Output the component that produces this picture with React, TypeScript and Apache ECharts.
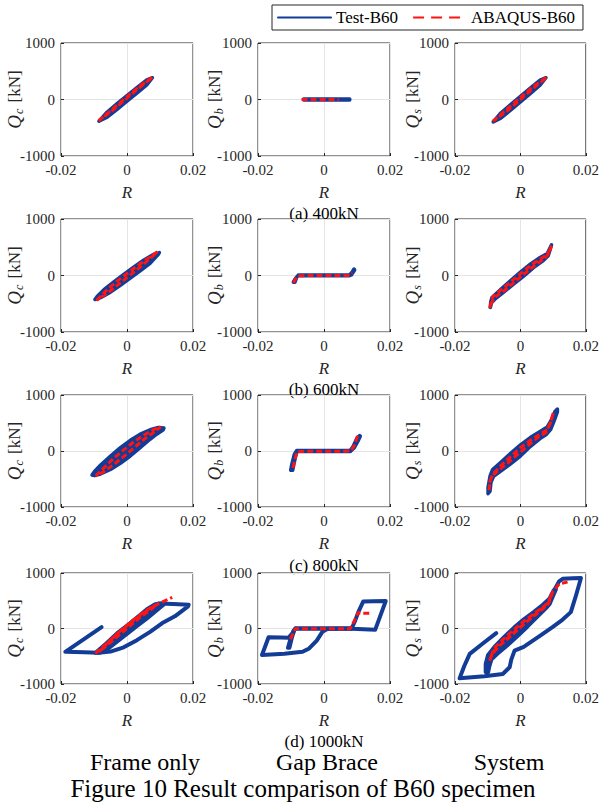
import React, { useEffect, useRef } from 'react';
import * as echarts from 'echarts';

const BLUE = '#133c96';
const RED = '#ff1414';
const INK = '#262626';
const FONT = 'Liberation Serif';

// ---- texts / ticks ----
const loadCases = ['(a) 400kN', '(b) 600kN', '(c) 800kN', '(d) 1000kN'];
const componentNames = ['Frame only', 'Gap Brace', 'System'];
const ySubscripts = ['c', 'b', 's'];
const figureTitle = 'Figure 10 Result comparison of B60 specimen';
const seriesNames = ['Test-B60', 'ABAQUS-B60'];
const xTicks = [-0.02, 0, 0.02];
const yTicks = [-1000, 0, 1000];

// ---- (a) 400kN ----
const frame400Band = [[-0.0085,-385],[-0.006,-221],[-0.003,-73],[0,69],[0.003,211],[0.006,349],[0.0077,385],[0.006,259],[0.003,111],[0,-31],[-0.003,-173],[-0.006,-311]];
const frame400FE = [[-0.0086,-375],[-0.005,-200],[-0.002,-50],[0.001,100],[0.004,245],[0.0078,395],[0.005,270],[0.002,125],[-0.001,-25],[-0.004,-175],[-0.0086,-375]];
const brace400Band = [[-0.0062,-10],[0.0078,-10],[0.0078,10],[-0.0062,10]];
const brace400FE = [[-0.0068,0],[-0.0035,0],[-0.0025,2],[0.0045,2]];
const system400Band = [[-0.0083,-395],[-0.006,-239],[-0.003,-88],[0,57],[0.003,202],[0.006,343],[0.0078,385],[0.006,253],[0.003,102],[0,-43],[-0.003,-188],[-0.006,-329]];
const system400FE = [[-0.0084,-385],[-0.005,-215],[-0.002,-65],[0.001,85],[0.004,235],[0.0081,395],[0.005,250],[0.002,100],[-0.001,-50],[-0.004,-200],[-0.0084,-385]];

// ---- (b) 600kN ----
const frame600Band = [[-0.0097,-425],[-0.009,-365],[-0.007,-250],[-0.004,-112],[-0.001,20],[0.002,148],[0.005,271],[0.008,373],[0.0098,405],[0.0095,375],[0.007,216],[0.004,83],[0.001,-44],[-0.002,-172],[-0.005,-295],[-0.008,-392]];
const frame600FE = [[-0.0092,-440],[-0.006,-250],[-0.003,-100],[0,35],[0.003,165],[0.006,290],[0.0092,420],[0.007,300],[0.004,150],[0.001,10],[-0.002,-130],[-0.005,-270],[-0.0092,-440]];
const brace600Band = [[-0.0093,-120],[-0.0088,-120],[-0.0082,-20],[-0.0078,-6],[0.0076,-6],[0.0083,10],[0.0093,95],[0.0091,115],[0.0085,60],[0.0077,8],[-0.0078,8],[-0.0085,-40],[-0.0093,-115]];
const brace600FE = [[-0.0093,-130],[-0.0085,-50],[-0.0079,-5],[-0.004,0],[0,0],[0.0078,0],[0.0086,40]];
const system600Band = [[-0.0092,-565],[-0.0091,-470],[-0.0087,-390],[-0.006,-245],[-0.003,-90],[0,60],[0.003,200],[0.006,320],[0.0082,390],[0.0095,545],[0.0093,500],[0.0085,350],[0.007,265],[0.004,140],[0.001,-10],[-0.002,-150],[-0.005,-290],[-0.0078,-420],[-0.0088,-480]];
const system600FE = [[-0.0094,-575],[-0.0089,-450],[-0.0084,-370],[-0.005,-210],[-0.002,-65],[0.001,80],[0.004,215],[0.0078,355],[0.0088,430],[0.0095,530],[0.0088,400],[0.0075,310],[0.004,160],[0.001,20],[-0.002,-125],[-0.005,-270],[-0.0082,-400],[-0.0094,-575]];

// ---- (c) 800kN ----
const frame800Band = [[-0.0106,-430],[-0.0098,-360],[-0.008,-250],[-0.005,-90],[-0.002,60],[0.001,190],[0.004,300],[0.007,380],[0.0095,420],[0.0112,410],[0.011,380],[0.009,300],[0.007,210],[0.004,60],[0.001,-90],[-0.002,-220],[-0.005,-330],[-0.008,-410],[-0.0098,-440]];
const frame800FE = [[-0.0095,-445],[-0.007,-300],[-0.004,-130],[-0.001,20],[0.002,160],[0.005,280],[0.008,380],[0.0102,430],[0.008,330],[0.005,200],[0.002,50],[-0.001,-100],[-0.004,-240],[-0.007,-370],[-0.0095,-445]];
const brace800Band = [[-0.0101,-345],[-0.0095,-345],[-0.0088,-150],[-0.0082,-8],[0.008,-8],[0.0092,60],[0.0105,200],[0.011,265],[0.0108,275],[0.01,230],[0.0088,80],[0.0079,8],[-0.0083,8],[-0.009,-60],[-0.0098,-250]];
const brace800FE = [[-0.0094,-300],[-0.0088,-150],[-0.0082,-10],[-0.004,-5],[0,-5],[0.008,-2],[0.0092,100],[0.0103,290]];
const system800Band = [[-0.0099,-760],[-0.0099,-650],[-0.0093,-450],[-0.0085,-330],[-0.006,-200],[-0.003,-40],[0,110],[0.003,240],[0.006,350],[0.0082,430],[0.0095,560],[0.0105,700],[0.0113,750],[0.0113,700],[0.0102,520],[0.0092,380],[0.008,300],[0.006,220],[0.003,80],[0,-90],[-0.003,-230],[-0.006,-360],[-0.0082,-450],[-0.009,-560],[-0.0093,-720]];
const system800FE = [[-0.0096,-700],[-0.0092,-520],[-0.0085,-420],[-0.006,-260],[-0.003,-100],[0,60],[0.003,190],[0.006,300],[0.0082,380],[0.0092,510],[0.0101,690],[0.009,480],[0.0078,330],[0.005,230],[0.002,80],[-0.001,-70],[-0.004,-220],[-0.007,-360],[-0.0088,-450],[-0.0096,-600]];

// ---- (d) 1000kN ----
const frame1000Band = [[-0.0096,-440],[-0.0093,-420],[-0.006,-250],[-0.003,-80],[0,55],[0.003,200],[0.006,350],[0.0085,440],[0.0105,455],[0.0112,430],[0.009,320],[0.006,175],[0.003,40],[0,-100],[-0.003,-240],[-0.006,-380],[-0.008,-435]];
const frame1000Loop = [[0.0095,450],[0.014,440],[0.0187,430],[0.0185,400],[0.0165,310],[0.0145,220],[0.011,110],[0.007,-60],[0.003,-210],[-0.001,-340],[-0.005,-415],[-0.0086,-437],[-0.013,-430],[-0.0187,-420],[-0.0077,25]];
const frame1000FE = [[-0.0096,-450],[-0.006,-260],[-0.003,-95],[0,50],[0.003,190],[0.006,320],[0.009,430],[0.007,330],[0.004,200],[0.001,50],[-0.002,-100],[-0.005,-250],[-0.0085,-420],[-0.005,-210],[-0.002,-40],[0.001,110],[0.004,250],[0.0075,390],[0.0095,445],[0.0137,560]];
const brace1000Band = [[-0.011,-350],[-0.0104,-350],[-0.0096,-150],[-0.0088,-8],[0.0084,-8],[0.0084,8],[-0.0086,8],[-0.0093,-40],[-0.0104,-220]];
const brace1000Loop = [[0.0084,0],[0.0095,150],[0.0104,295],[0.0119,488],[0.015,492],[0.0187,494],[0.0155,-24],[0.012,-15],[0.0084,-6],[0.004,-4],[0.001,-10],[-0.0005,-60],[-0.0022,-217],[-0.0045,-360],[-0.0065,-420],[-0.012,-455],[-0.0188,-476],[-0.0178,-320],[-0.0168,-157],[-0.013,-160],[-0.0107,-165],[-0.0095,-80],[-0.0087,0]];
const brace1000FE = [[-0.0102,-190],[-0.0094,-90],[-0.0087,-6],[-0.004,-6],[0,-4],[0.0079,-6],[0.0092,140],[0.0104,295],[0.0109,277],[0.0145,277]];
const system1000Band = [[-0.0107,-790],[-0.0107,-640],[-0.01,-480],[-0.008,-330],[-0.005,-150],[-0.002,20],[0.001,170],[0.004,300],[0.0068,430],[0.0088,540],[0.01,680],[0.0109,750],[0.0109,700],[0.01,580],[0.009,440],[0.0078,360],[0.005,200],[0.002,20],[-0.001,-150],[-0.004,-310],[-0.007,-460],[-0.0088,-560],[-0.0095,-700],[-0.0098,-790]];
const system1000Loop = [[0.0109,750],[0.0118,850],[0.0129,895],[0.016,905],[0.0185,910],[0.017,600],[0.0154,295],[0.0125,140],[0.0098,24],[0.0065,-110],[0.0038,-217],[0.001,-330],[-0.0018,-398],[-0.0028,-560],[-0.0033,-699],[-0.0054,-819],[-0.011,-860],[-0.0186,-898],[-0.0172,-680],[-0.0155,-458],[-0.0115,-270],[-0.0074,-84]];
const system1000FE = [[-0.0094,-580],[-0.0088,-470],[-0.006,-290],[-0.003,-140],[0,20],[0.003,180],[0.006,330],[0.0085,440],[0.0098,657],[0.0085,470],[0.0072,400],[0.004,260],[0.001,130],[-0.002,-20],[-0.005,-180],[-0.008,-350],[-0.0094,-560],[-0.008,-400],[-0.005,-230],[-0.002,-70],[0.001,80],[0.004,220],[0.007,360],[0.0088,480],[0.0098,650],[0.0119,807],[0.0144,837]];

const testBands = [
  [frame400Band, brace400Band, system400Band],
  [frame600Band, brace600Band, system600Band],
  [frame800Band, brace800Band, system800Band],
  [frame1000Band, brace1000Band, system1000Band],
];
const testLoops: (number[][] | null)[][] = [
  [null, null, null],
  [null, null, null],
  [null, null, null],
  [frame1000Loop, brace1000Loop, system1000Loop],
];
const feCurves = [
  [frame400FE, brace400FE, system400FE],
  [frame600FE, brace600FE, system600FE],
  [frame800FE, brace800FE, system800FE],
  [frame1000FE, brace1000FE, system1000FE],
];

// ---- layout ----
const colLeft = [61, 258, 455];
const rowTop = [43, 219, 395, 573];
const rowHeight = [113, 113, 112, 111];
const plotWidth = 132;
const captionY = [213, 389, 565, 741];
const nameGaps = [36, 33, 32];

function buildOption() {
  const grid: any[] = [];
  const xAxis: any[] = [];
  const yAxis: any[] = [];
  const series: any[] = [];
  const tickLabel = { fontFamily: FONT, fontSize: 15, color: INK };
  for (let r = 0; r < 4; r++) {
    for (let c = 0; c < 3; c++) {
      const idx = r * 3 + c;
      grid.push({
        left: colLeft[c], top: rowTop[r], width: plotWidth, height: rowHeight[r],
        show: true, borderColor: INK, borderWidth: 1, backgroundColor: 'transparent',
      });
      xAxis.push({
        type: 'value', gridIndex: idx,
        min: xTicks[0], max: xTicks[2], interval: xTicks[1] - xTicks[0],
        name: 'R', nameLocation: 'middle', nameGap: 28, nameMoveOverlap: false,
        nameTextStyle: { fontFamily: FONT, fontSize: 17, fontStyle: 'italic', color: INK },
        axisLine: { show: false, onZero: false },
        axisTick: { show: true, inside: true, length: 3, lineStyle: { color: INK } },
        axisLabel: {
          ...tickLabel, margin: 6,
          formatter: (v: number) => (Math.abs(v) < 1e-9 ? '0' : String(+v.toFixed(2))),
        },
        splitLine: { show: true, lineStyle: { color: '#e4e4e4', width: 1 } },
      });
      yAxis.push({
        type: 'value', gridIndex: idx,
        min: yTicks[0], max: yTicks[2], interval: yTicks[1] - yTicks[0],
        name: `{q|Q}{s|${ySubscripts[c]}} [kN]`, nameLocation: 'middle', nameGap: nameGaps[c], nameRotate: 90,
        nameMoveOverlap: false,
        nameTextStyle: {
          fontFamily: FONT, fontSize: 17, color: INK,
          rich: {
            q: { fontFamily: FONT, fontSize: 19, fontStyle: 'italic', color: INK },
            s: { fontFamily: FONT, fontSize: 12, fontStyle: 'italic', color: INK, padding: [10, 2, 0, 1] },
          },
        },
        axisLine: { show: false, onZero: false },
        axisTick: { show: true, inside: true, length: 3, lineStyle: { color: INK } },
        axisLabel: { ...tickLabel, margin: 6, formatter: (v: number) => String(Math.round(v)) },
        splitLine: { show: true, lineStyle: { color: '#e4e4e4', width: 1 } },
      });

      const band = testBands[r][c];
      series.push({
        type: 'line', name: seriesNames[0], xAxisIndex: idx, yAxisIndex: idx,
        data: band.concat([band[0]]), symbol: 'none', showSymbol: false, z: 2,
        itemStyle: { color: BLUE },
        lineStyle: { color: BLUE, width: 3.5, cap: 'round', join: 'round' },
        silent: true,
      });
      series.push({
        type: 'custom', name: seriesNames[0], xAxisIndex: idx, yAxisIndex: idx,
        data: band, z: 2, silent: true, itemStyle: { color: BLUE },
        renderItem: (params: any, api: any) => {
          if (params.dataIndex !== 0) return null;
          return {
            type: 'polygon',
            shape: { points: band.map((p) => api.coord(p)) },
            style: { fill: BLUE, stroke: 'none' },
          };
        },
      });
      const loop = testLoops[r][c];
      if (loop) {
        series.push({
          type: 'line', name: seriesNames[0], xAxisIndex: idx, yAxisIndex: idx,
          data: loop, symbol: 'none', showSymbol: false, z: 2, silent: true,
          itemStyle: { color: BLUE },
          lineStyle: { color: BLUE, width: 4, cap: 'round', join: 'round' },
        });
      }
      series.push({
        type: 'line', name: seriesNames[1], xAxisIndex: idx, yAxisIndex: idx,
        data: feCurves[r][c], symbol: 'none', showSymbol: false, z: 3, silent: true,
        itemStyle: { color: RED },
        lineStyle: { color: RED, width: 3, type: [6, 3] },
      });
    }
  }

  const graphic: any[] = [];
  loadCases.forEach((t, i) => {
    graphic.push({
      type: 'text', x: 324, y: captionY[i], silent: true,
      style: { text: t, fill: '#000', font: `17px "${FONT}"`, align: 'center', verticalAlign: 'middle' },
    });
  });
  const bottomX = [145, 327, 509];
  componentNames.forEach((t, i) => {
    graphic.push({
      type: 'text', x: bottomX[i], y: 762, silent: true,
      style: { text: t, fill: '#000', font: `24px "${FONT}"`, align: 'center', verticalAlign: 'middle' },
    });
  });
  graphic.push({
    type: 'text', x: 303, y: 788, silent: true,
    style: { text: figureTitle, fill: '#000', font: `25px "${FONT}"`, align: 'center', verticalAlign: 'middle' },
  });

  return {
    animation: false,
    backgroundColor: '#ffffff',
    grid, xAxis, yAxis, series, graphic,
    legend: {
      show: true, left: 272, top: 5, orient: 'horizontal',
      padding: [4, 8, 4, 5], itemGap: 14, itemWidth: 53, itemHeight: 14,
      borderColor: INK, borderWidth: 1, backgroundColor: '#fff', selectedMode: false,
      itemStyle: { opacity: 0, borderWidth: 0 },
      textStyle: { fontFamily: FONT, fontSize: 17, color: '#000' },
      data: [
        { name: seriesNames[0] },
        { name: seriesNames[1], lineStyle: { type: [11, 7] } },
      ],
    },
  };
}

export default function App() {
  const ref = useRef<HTMLDivElement>(null);
  useEffect(() => {
    if (!ref.current) return;
    const chart = echarts.init(ref.current, null, { renderer: 'svg' });
    chart.setOption(buildOption() as any);
    return () => chart.dispose();
  }, []);
  return (
    <div
      ref={ref}
      style={{ position: 'absolute', left: 0, top: 0, width: 602, height: 802, background: '#fff' }}
    />
  );
}
